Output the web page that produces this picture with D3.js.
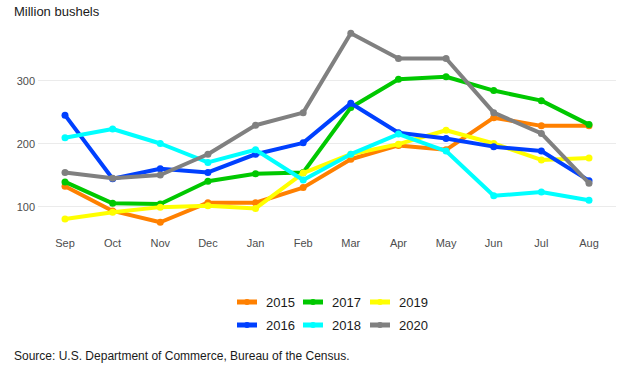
<!DOCTYPE html>
<html><head><meta charset="utf-8">
<script src="https://cdn.jsdelivr.net/npm/d3@7"></script>
<style>body{margin:0;background:#fff;}svg{display:block;font-family:Arial,"Liberation Sans",sans-serif;}</style>
</head><body><svg id="c" width="630" height="368"></svg>
<script>
const months = ["Sep","Oct","Nov","Dec","Jan","Feb","Mar","Apr","May","Jun","Jul","Aug"];
const years = ["2015","2016","2017","2018","2019","2020"];
const yTicks = [100, 200, 300];
const v2015 = [132, 93, 75, 106, 106, 130, 175, 197, 190, 241, 228, 228];
const v2016 = [245, 144, 160, 154, 183, 201, 264, 217, 208, 195, 188, 141];
const v2017 = [139, 105, 104, 140, 152, 154, 257, 302, 306, 284, 268, 230];
const v2018 = [209, 223, 200, 170, 190, 142, 183, 215, 188, 117, 123, 110];
const v2019 = [80, 91, 99, 101, 97, 153, 183, 199, 221, 200, 174, 177];
const v2020 = [154, 145, 150, 183, 229, 249, 375, 335, 335, 249, 216, 137];
const colors = ["#ff8000", "#0040ff", "#00c800", "#00ffff", "#ffff00", "#808080"];

const seriesVals = [v2015, v2016, v2017, v2018, v2019, v2020];
const svg = d3.select("#c");
const x = d3.scalePoint().domain(months).range([65, 589]);
const y = d3.scaleLinear().domain([100, 300]).range([206.5, 80.5]);

// gridlines
svg.append("g").selectAll("line").data(yTicks).join("line")
  .attr("x1", 38).attr("x2", 616)
  .attr("y1", d => y(d)).attr("y2", d => y(d))
  .attr("stroke", "#ebebeb").attr("stroke-width", 1);
svg.append("g").selectAll("text").data(yTicks).join("text")
  .attr("x", 35).attr("y", d => y(d) + 4).attr("text-anchor", "end")
  .attr("font-size", 11).attr("fill", "#4d4d4d").text(d => d);
svg.append("g").selectAll("text").data(months).join("text")
  .attr("x", d => x(d)).attr("y", 247).attr("text-anchor", "middle")
  .attr("font-size", 11).attr("fill", "#4d4d4d").text(d => d);

svg.append("text").attr("x", 14).attr("y", 16).attr("font-size", 13).attr("fill", "#1a1a1a").text("Million bushels");

const line = d3.line().x((d, i) => x(months[i])).y(d => y(d));
const order = [0, 2, 4, 1, 3, 5];
order.forEach(k => {
  const g = svg.append("g");
  g.append("path").datum(seriesVals[k]).attr("d", line)
    .attr("fill", "none").attr("stroke", colors[k]).attr("stroke-width", 4)
    .attr("stroke-linejoin", "round");
  g.selectAll("circle").data(seriesVals[k]).join("circle")
    .attr("cx", (d, i) => x(months[i])).attr("cy", d => y(d)).attr("r", 3.5)
    .attr("fill", colors[k]);
});

// legend
const legX = [237, 303, 370];
const legY = [302, 325];
years.forEach((yr, i) => {
  const col = Math.floor(i / 2), row = i % 2;
  const lx = legX[col], ly = legY[row];
  const g = svg.append("g");
  g.append("line").attr("x1", lx).attr("x2", lx + 20).attr("y1", ly).attr("y2", ly)
    .attr("stroke", colors[i]).attr("stroke-width", 5);
  g.append("circle").attr("cx", lx + 10).attr("cy", ly).attr("r", 3).attr("fill", colors[i]);
  g.append("text").attr("x", lx + 29).attr("y", ly + 5).attr("font-size", 13).attr("fill", "#1a1a1a").text(yr);
});

svg.append("text").attr("x", 14).attr("y", 360).attr("font-size", 12).attr("fill", "#1a1a1a")
  .text("Source: U.S. Department of Commerce, Bureau of the Census.");
</script></body></html>
